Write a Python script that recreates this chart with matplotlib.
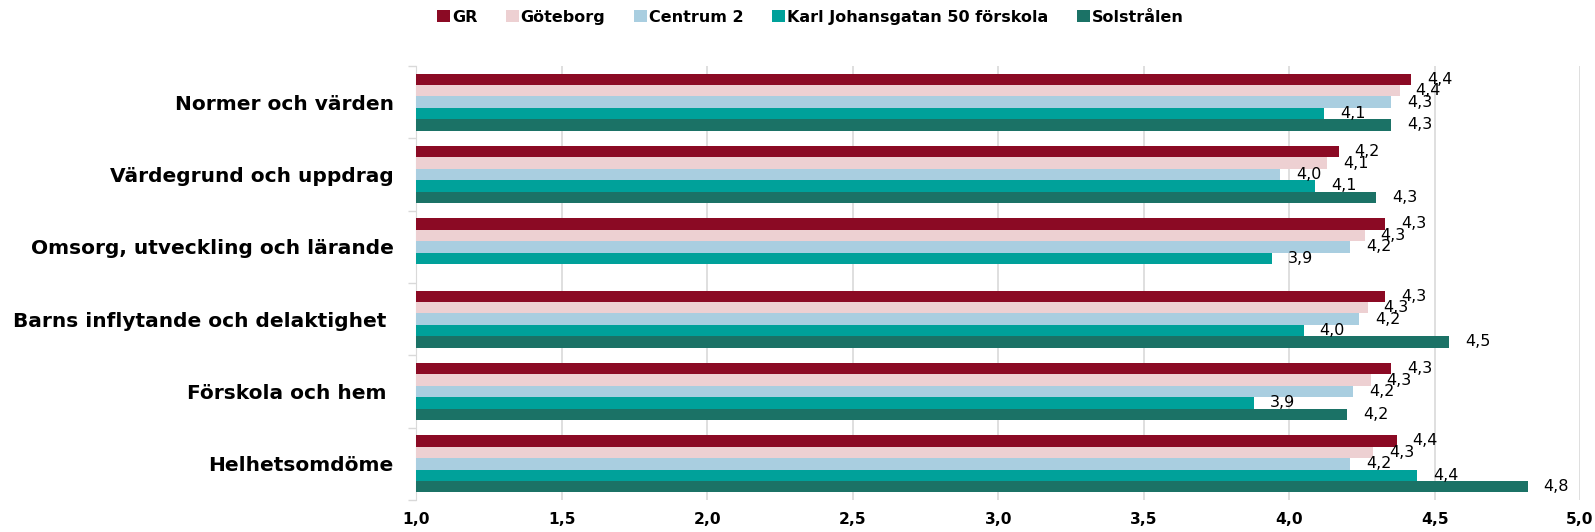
import numpy as np
import matplotlib
matplotlib.use('Agg')
import matplotlib.pyplot as plt

plt.rcParams['font.family'] = ['DejaVu Sans']

categories = ['Normer och värden', 'Värdegrund och uppdrag', 'Omsorg, utveckling och lärande',
              'Barns inflytande och delaktighet ', 'Förskola och hem ', 'Helhetsomdöme']
series = ['GR', 'Göteborg', 'Centrum 2', 'Karl Johansgatan 50 förskola', 'Solstrålen']

gr = [4.42, 4.17, 4.33, 4.33, 4.35, 4.37]
goteborg = [4.38, 4.13, 4.26, 4.27, 4.28, 4.29]
centrum = [4.35, 3.97, 4.21, 4.24, 4.22, 4.21]
karl = [4.12, 4.09, 3.94, 4.05, 3.88, 4.44]
solstralen = [4.35, 4.30, np.nan, 4.55, 4.20, 4.82]

values = [gr, goteborg, centrum, karl, solstralen]
colors = ['#8B0A24', '#EDD0D2', '#A9CEE0', '#00A19A', '#1B7266']

fig = plt.figure(figsize=(15.95, 5.32), dpi=100)
ax = fig.add_axes([0.2611, 0.0602, 0.7295, 0.8158])

h = 0.158
y = np.arange(len(categories))

for j in range(len(series)):
    vals = np.array(values[j], dtype=float)
    pos = y + (j - 2) * h
    w = np.nan_to_num(vals - 1.0, nan=0.0)
    ax.barh(pos, w, left=1.0, height=h, color=colors[j], label=series[j], zorder=3)
    for k in range(len(vals)):
        if np.isnan(vals[k]):
            continue
        ax.annotate(('%.1f' % vals[k]).replace('.', ','), (vals[k], pos[k]),
                    xytext=(11.5, 0), textcoords='offset points',
                    ha='left', va='center', fontsize=11.5, zorder=4)

ax.set_xlim(1.0, 5.0)
ax.set_ylim(len(categories) - 0.5, -0.5)

xt = np.arange(1.0, 5.01, 0.5)
ax.set_xticks(xt)
ax.set_xticklabels([('%.1f' % v).replace('.', ',') for v in xt], fontsize=11.2, fontweight='bold')
ax.tick_params(axis='x', length=0, pad=9)

ax.set_yticks(y)
ax.set_yticklabels(categories, fontsize=14.5, fontweight='bold')
ax.tick_params(axis='y', which='major', length=0, pad=16.5)
ax.set_yticks(np.arange(-0.5, len(categories), 1.0), minor=True)
ax.tick_params(axis='y', which='minor', length=6, color='#d9d9d9', width=1)

ax.grid(axis='x', color='#d9d9d9', linewidth=1.2, zorder=0)
for s in ['top', 'right', 'bottom']:
    ax.spines[s].set_visible(False)
ax.spines['left'].set_color('#d9d9d9')

fig.legend(loc='center', bbox_to_anchor=(0.508, 0.968), ncol=5, frameon=False,
           prop={'size': 11.5, 'weight': 'bold'}, handlelength=0.8, handleheight=0.8,
           handletextpad=0.12, columnspacing=1.8)

fig.savefig('out.png', dpi=100)
